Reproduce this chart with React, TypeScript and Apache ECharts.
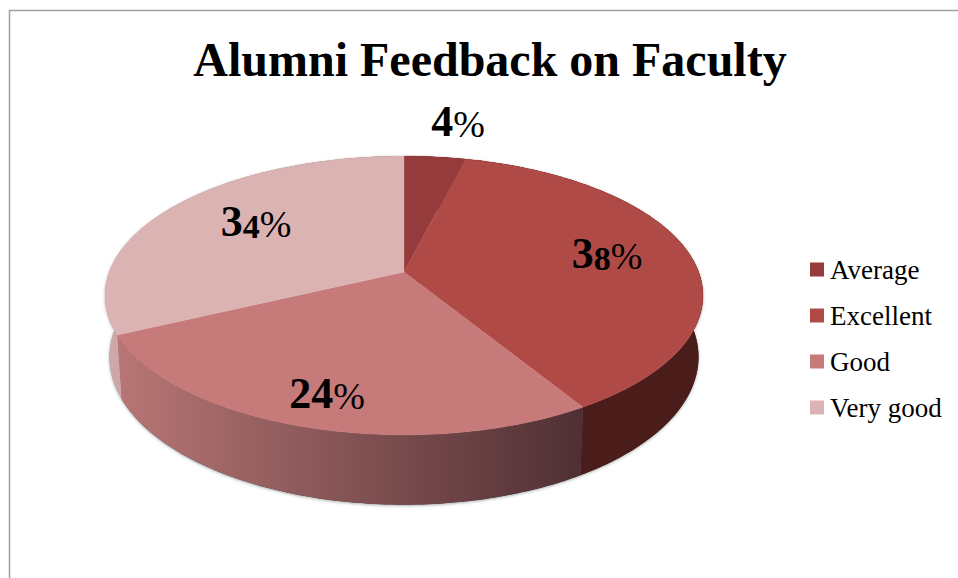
import React, { useEffect, useRef } from "react";
import * as echarts from "echarts";

const categories = ["Average", "Excellent", "Good", "Very good"];
const sliceShares = [3.9, 37.4, 26.6, 32.1];
const labelMain = ["4", "3", "24", "3"];
const labelSmall = ["", "8", "", "4"];
const topColors = ["#953b3b", "#b04a47", "#c67a79", "#dcb3b3"];
const wallStops = [
  ["#5c2323", "#5c2323"],
  ["#4a1c1a", "#4a1c1a"],
  ["#b87675", "#4f2f33"],
  ["#cfa9a9", "#a87f7f"],
];
const labelPos = [
  [458, 118],
  [607, 250],
  [327, 390],
  [256, 218],
];

const CX = 404;
const CY = 272;
const A = 294.7;
const B = 135.5;
const K = 0.1685;
const D0 = 60;
const S = 0.985;

function topPt(t: number) {
  const w = 1 + K * Math.cos(t);
  return [CX + (A * Math.sin(t)) / w, CY - (B * Math.cos(t)) / w];
}
function lowPt(t: number) {
  const w = 1 + K * Math.cos(t);
  return [CX + (S * A * Math.sin(t)) / w, CY - (S * B * Math.cos(t)) / w + D0 / w];
}
function arc(fn: (t: number) => number[], a: number, b: number) {
  const n = Math.max(8, Math.ceil((b - a) * 60));
  const out: number[][] = [];
  for (let i = 0; i <= n; i++) out.push(fn(a + ((b - a) * i) / n));
  return out;
}

export default function App() {
  const ref = useRef<HTMLDivElement>(null);
  useEffect(() => {
    const chart = echarts.init(ref.current!, undefined, { renderer: "svg" });
    const total = sliceShares.reduce((s, v) => s + v, 0);
    let acc = 0;
    const series = categories.map((name, i) => {
      const start = (acc / total) * Math.PI * 2;
      acc += sliceShares[i];
      const end = (acc / total) * Math.PI * 2;
      return {
        type: "custom",
        name,
        coordinateSystem: "none",
        itemStyle: { color: topColors[i] },
        data: [{ name, value: [start, end] }],
        renderItem: (_p: any, api: any) => {
          const a = api.value(0);
          const b = api.value(1);
          const top = arc(topPt, a, b);
          const low = arc(lowPt, a, b).reverse();
          const wall = top.concat(low);
          return {
            type: "group",
            children: [
              {
                type: "polygon",
                z2: 0,
                shape: { points: wall },
                style: {
                  fill: wallStops[i][1],
                  stroke: "none",
                  shadowBlur: 3,
                  shadowColor: "rgba(90,100,100,0.55)",
                  shadowOffsetX: 0,
                  shadowOffsetY: 1,
                },
              },
              {
                type: "polygon",
                z2: 1,
                shape: { points: wall },
                style: {
                  fill: new echarts.graphic.LinearGradient(0, 0, 1, 0, [
                    { offset: 0, color: wallStops[i][0] },
                    { offset: 1, color: wallStops[i][1] },
                  ]),
                  stroke: "none",
                },
              },
              {
                type: "polygon",
                z2: 2,
                shape: { points: [[CX, CY], ...top] },
                style: { fill: topColors[i], stroke: topColors[i], lineWidth: 0.3 },
              },
            ],
          };
        },
      };
    });
    chart.setOption({
      animation: false,
      backgroundColor: "#ffffff",
      title: {
        text: "Alumni Feedback on Faculty",
        left: 485,
        top: 30,
        textAlign: "center",
        textStyle: { fontFamily: "Liberation Serif", fontWeight: "bold", fontSize: 48, color: "#000" },
      },
      legend: {
        orient: "vertical",
        left: 805,
        top: 251,
        itemWidth: 14,
        itemHeight: 14,
        itemGap: 19,
        icon: "rect",
        data: categories,
        selectedMode: false,
        textStyle: { fontFamily: "Liberation Serif", fontSize: 27, color: "#000", padding: [0, 0, 0, 1] },
      },
      graphic: [
        {
          type: "polyline",
          silent: true,
          shape: { points: [[9.5, 578], [9.5, 10.5], [958, 10.5]] },
          style: { stroke: "#a0a0a0", lineWidth: 1.5, fill: "none" },
        },
        ...labelPos.map((p, i) => ({
          type: "text",
          z: 10,
          x: p[0],
          y: p[1],
          style: {
            text: `{b|${labelMain[i]}}` + (labelSmall[i] ? `{s|${labelSmall[i]}}` : "") + "{n|%}",
            align: "center",
            verticalAlign: "middle",
            rich: {
              b: { fontFamily: "Liberation Serif", fontWeight: "bold", fontSize: 44, fill: "#000", verticalAlign: "bottom", lineHeight: 50 },
              s: { fontFamily: "Liberation Serif", fontWeight: "bold", fontSize: 34, fill: "#000", verticalAlign: "bottom", lineHeight: 50 },
              n: { fontFamily: "Liberation Serif", fontSize: 38, fill: "#000", verticalAlign: "bottom", lineHeight: 50 },
            },
          },
        })),
      ],
      series,
    });
    return () => chart.dispose();
  }, []);
  return <div ref={ref} style={{ position: "absolute", left: 0, top: 0, width: 958, height: 578 }} />;
}
